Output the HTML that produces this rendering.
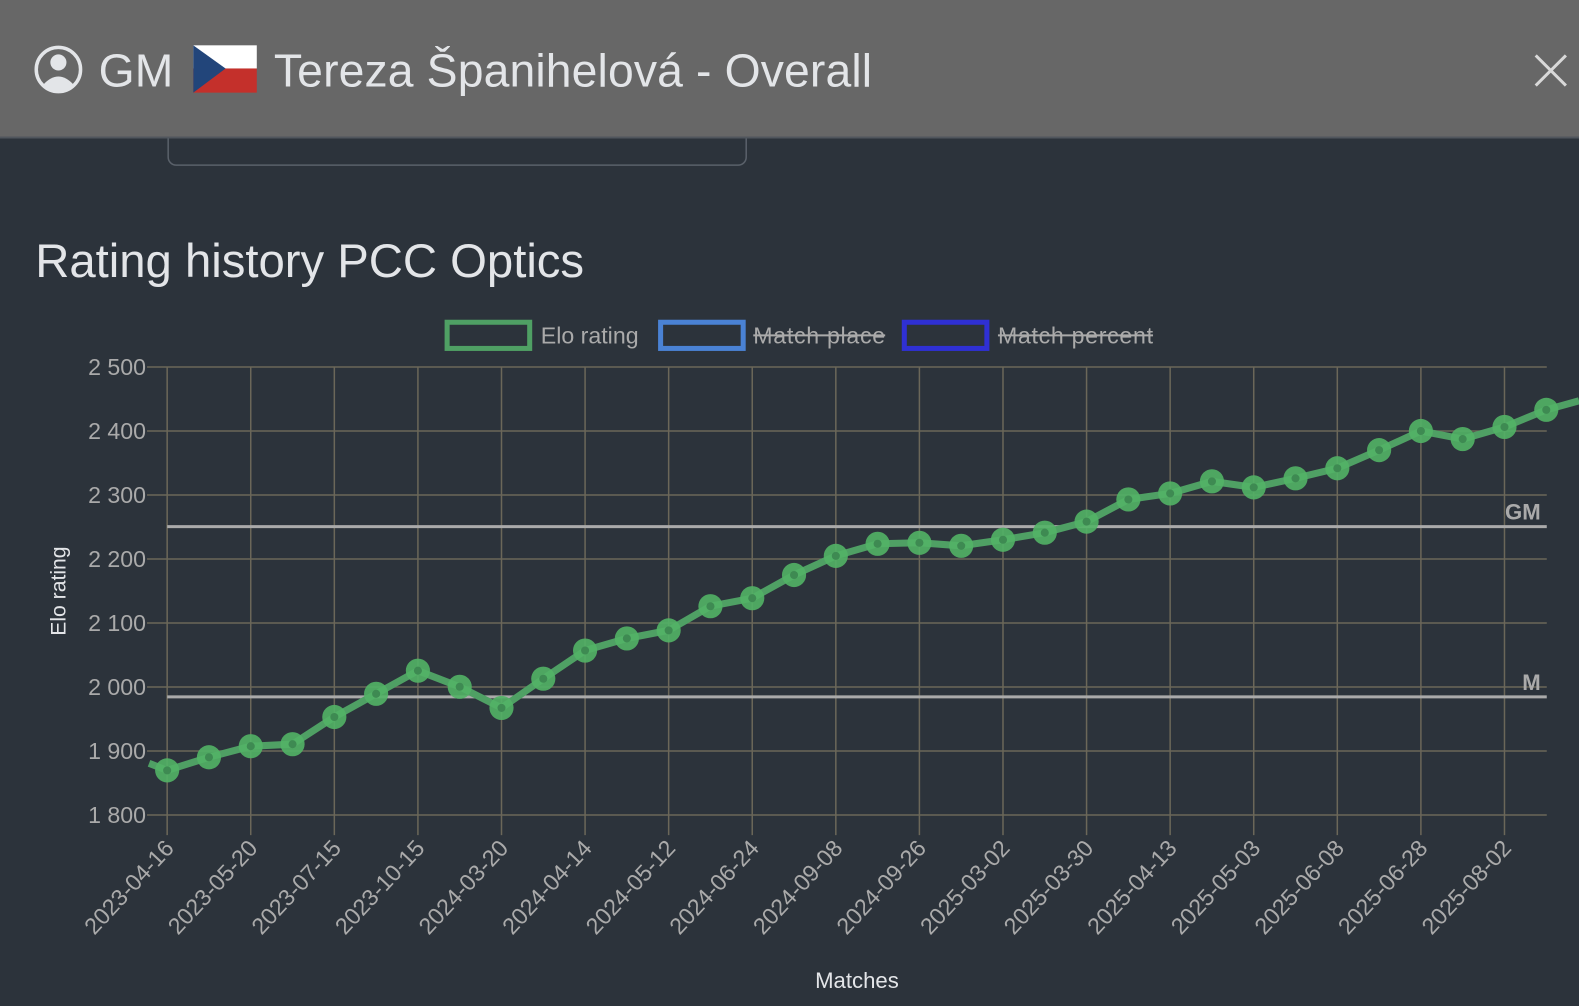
<!DOCTYPE html>
<html><head><meta charset="utf-8"><style>
html,body{margin:0;padding:0;background:#2c333b;width:1579px;height:1006px;overflow:hidden}
svg{display:block;font-family:"Liberation Sans",sans-serif}
</style></head><body>
<svg width="1579" height="1006" viewBox="0 0 1568 999" preserveAspectRatio="none" xmlns="http://www.w3.org/2000/svg">
<rect width="1568" height="999" fill="#2c333b"/>
<rect x="167" y="110" width="574" height="54" rx="8" fill="none" stroke="#5a616a" stroke-width="1.5"/>
<rect x="0" y="0" width="1568" height="136" fill="#676767"/>
<line x1="0" y1="136.5" x2="1568" y2="136.5" stroke="#50565d" stroke-width="2"/>
<circle cx="58" cy="69" r="22" fill="none" stroke="#e3e5e8" stroke-width="3.5"/>
<circle cx="58" cy="62" r="8" fill="#e3e5e8"/>
<path d="M43 84 Q58 68 73 84 Q58 96 43 84Z" fill="#e3e5e8"/>
<text x="98" y="86" font-size="46" fill="#e3e5e8">GM</text>
<rect x="192" y="45" width="63" height="23" fill="#fff"/>
<rect x="192" y="68" width="63" height="24" fill="#c4302b"/>
<polygon points="192,45 224,68 192,92" fill="#22457a"/>
<text x="272" y="86" font-size="46" fill="#e3e5e8" textLength="594">Tereza Španihelová - Overall</text>
<path d="M1525 55 L1555 85 M1555 55 L1525 85" stroke="#d8d8d8" stroke-width="3"/>
<text x="35" y="275" font-size="47" fill="#e3e5e8" textLength="545">Rating history PCC Optics</text>
<rect x="444" y="320" width="82" height="26" fill="none" stroke="#4fa064" stroke-width="5"/>
<text x="537" y="341" font-size="23" fill="#aaa">Elo rating</text>
<rect x="656" y="320" width="82" height="26" fill="none" stroke="#4a82d4" stroke-width="5"/>
<text x="748" y="341" font-size="23" fill="#aaa" textLength="131">Match place</text>
<line x1="748" y1="333" x2="879" y2="333" stroke="#aaa" stroke-width="2"/>
<rect x="898" y="320" width="82" height="26" fill="none" stroke="#2f30d4" stroke-width="5"/>
<text x="991" y="341" font-size="23" fill="#aaa" textLength="154">Match percent</text>
<line x1="991" y1="333" x2="1145" y2="333" stroke="#aaa" stroke-width="2"/>
<g id="grid" stroke="#6b6759" stroke-width="1.5"></g>
<g id="ylab" font-size="23" fill="#aaa" text-anchor="end"></g>
<g id="xlab" font-size="23" fill="#aaa" text-anchor="end"></g>
<line x1="166" y1="523" x2="1536" y2="523" stroke="#aaa" stroke-width="3"/>
<line x1="166" y1="692" x2="1536" y2="692" stroke="#aaa" stroke-width="3"/>
<text x="1530" y="516" font-size="22" font-weight="bold" fill="#aaa" text-anchor="end">GM</text>
<text x="1530" y="685" font-size="22" font-weight="bold" fill="#aaa" text-anchor="end">M</text>
<text transform="translate(65,587) rotate(-90)" font-size="21" fill="#e3e5e8" text-anchor="middle">Elo rating</text>
<text x="851" y="981" font-size="22" fill="#e3e5e8" text-anchor="middle">Matches</text>
<g id="series"></g>
</svg>
<script>
var NS="http://www.w3.org/2000/svg";
function el(p,t,a,txt){var e=document.createElementNS(NS,t);for(var k in a)e.setAttribute(k,a[k]);if(txt)e.textContent=txt;document.getElementById(p).appendChild(e);return e;}
var L=166,R=1536,T=364.4,B=809.3;
for(var i=0;i<=7;i++){var y=T+(B-T)*i/7;el("grid","line",{x1:L-20,y1:y,x2:R,y2:y});el("ylab","text",{x:145,y:y+8},(2500-100*i).toString().replace(/^(\d)(\d{3})$/,"$1 $2"));}
var dx=83;
var dates=["2023-04-16","2023-05-20","2023-07-15","2023-10-15","2024-03-20","2024-04-14","2024-05-12","2024-06-24","2024-09-08","2024-09-26","2025-03-02","2025-03-30","2025-04-13","2025-05-03","2025-06-08","2025-06-28","2025-08-02"];
for(var i=0;i<=16;i++){var x=L+dx*i;el("grid","line",{x1:x,y1:T,x2:x,y2:B+20});el("xlab","text",{transform:"translate("+(x+8)+","+(B+34)+") rotate(-47)"},dates[i]);}
var ys=[765,752,741,739,712,689,666,682,703,674,646,634,626,602,594,571,552,540,539,542,536,529,518,496,490,478,484,475,465,447,428,436,424,407];
var pts=["148,758"];for(var i=0;i<ys.length;i++)pts.push((L+dx/2*i)+","+ys[i]);pts.push("1568,398");
el("series","polyline",{points:pts.join(" "),fill:"none",stroke:"#4fa064",'stroke-width':7,'stroke-linejoin':"round"});
for(var i=0;i<ys.length;i++){var x=L+dx/2*i;el("series","circle",{cx:x,cy:ys[i],r:12,fill:"#52b266",'fill-opacity':0.9});el("series","circle",{cx:x,cy:ys[i],r:4,fill:"#3e8a52"});}
</script>
</body></html>
